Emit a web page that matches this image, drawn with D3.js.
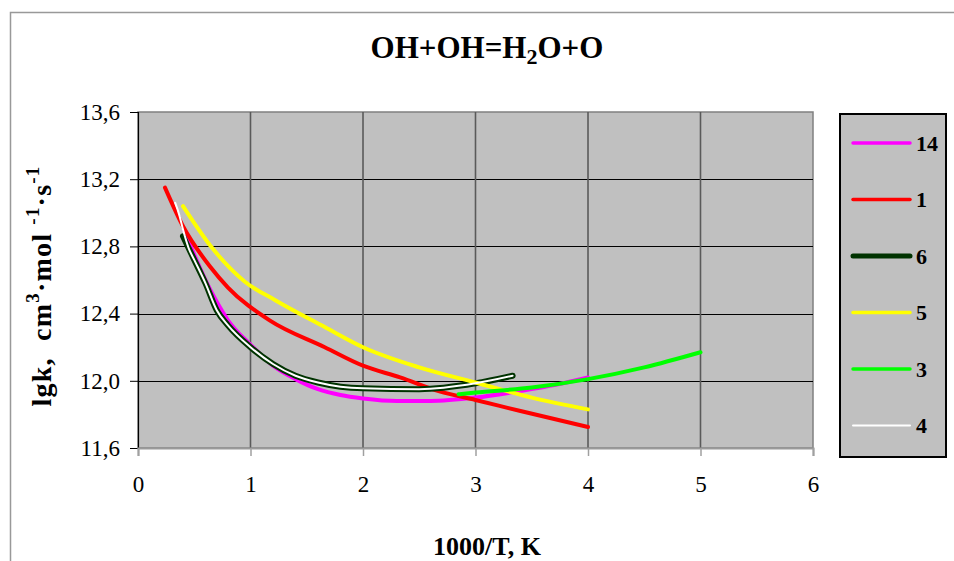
<!DOCTYPE html>
<html><head><meta charset="utf-8">
<script src="https://cdn.jsdelivr.net/npm/d3@7"></script>
<style>body{margin:0;background:#fff}svg{display:block}text{font-family:"Liberation Serif","Times New Roman",serif;fill:#000}</style>
</head><body>
<svg id="c" width="954" height="561"></svg>
<script>
// ---- data ----
const xTicks = [0, 1, 2, 3, 4, 5, 6];
const yTicks = [11.6, 12.0, 12.4, 12.8, 13.2, 13.6];
const legendNames = ["14", "1", "6", "5", "3", "4"];
const colors = ["#ff00ff", "#ff0000", "#003300", "#ffff00", "#00ff00", "#ffffff"];

const s14 = [[0.41,12.90],[0.5,12.75],[0.6,12.60],[0.7,12.47],[0.8,12.36],[1.0,12.215],[1.2,12.09],[1.4,12.01],[1.6,11.95],[1.8,11.915],[2.0,11.895],[2.3,11.88],[2.6,11.88],[3.0,11.90],[3.4,11.94],[3.7,11.975],[4.0,12.02]];
const s1 = [[0.24,13.15],[0.40,12.92],[0.64,12.68],[0.80,12.555],[1.17,12.36],[1.66,12.20],[2.0,12.09],[2.33,12.02],[2.68,11.937],[3.0,11.886],[3.4,11.82],[4.0,11.725]];
const s6 = [[0.40,12.86],[0.5,12.72],[0.6,12.58],[0.7,12.42],[0.8,12.33],[1.0,12.20],[1.2,12.10],[1.4,12.03],[1.6,11.99],[1.8,11.965],[2.0,11.955],[2.5,11.95],[3.0,11.985],[3.33,12.03]];
const s5 = [[0.40,13.04],[0.66,12.79],[0.95,12.59],[1.22,12.48],[1.66,12.32],[2.0,12.20],[2.5,12.08],[3.0,11.99],[3.5,11.90],[4.0,11.83]];
const s3 = [[2.85,11.92],[3.0,11.93],[3.5,11.96],[4.0,12.01],[4.5,12.08],[5.0,12.17]];
const s4 = [[0.33,13.06],[0.37,12.98],[0.40,12.90],[0.45,12.79],[0.5,12.72],[0.6,12.58],[0.7,12.42],[0.8,12.33],[1.0,12.20],[1.2,12.10],[1.4,12.03],[1.6,11.99],[1.8,11.965],[2.0,11.955],[2.5,11.95],[3.0,11.985],[3.33,12.03]];
const seriesData = [s14, s1, s6, s5, s3, s4];

// ---- drawing ----
const svg = d3.select("#c");
const x = d3.scaleLinear().domain([0, 6]).range([138, 813]);
const y = d3.scaleLinear().domain([11.6, 13.6]).range([448, 112]);

svg.append("rect").attr("x",10.5).attr("y",12.5).attr("width",1000).attr("height",600)
  .attr("fill","#fff").attr("stroke","#999").attr("stroke-width",1.5);

svg.append("rect").attr("x",x(0)).attr("y",y(13.6)).attr("width",x(6)-x(0)).attr("height",y(11.6)-y(13.6))
  .attr("fill","#c0c0c0").attr("stroke","#808080").attr("stroke-width",1.5);

// grid
svg.append("g").selectAll("line").data(yTicks.filter(d=>d>11.6 && d<13.6)).join("line")
  .attr("x1",x(0)).attr("x2",x(6)).attr("y1",d=>Math.round(y(d))+0.5).attr("y2",d=>Math.round(y(d))+0.5)
  .attr("stroke","#000").attr("stroke-width",1);
svg.append("g").selectAll("line").data(xTicks.filter(d=>d>0 && d<6)).join("line")
  .attr("y1",y(13.6)).attr("y2",y(11.6)).attr("x1",d=>x(d)).attr("x2",d=>x(d))
  .attr("stroke","#5a5a5a").attr("stroke-width",1.6);

// axes
const yAxis = d3.axisLeft(y).tickValues(yTicks).tickSize(8).tickPadding(10)
  .tickFormat(d=>d3.format(".1f")(d).replace(".",","));
const gy = svg.append("g").attr("transform",`translate(${x(0)},0)`).call(yAxis);
gy.select(".domain").attr("stroke","#000").attr("stroke-width",1.2);
gy.selectAll(".tick line").attr("stroke","#000");
gy.selectAll(".tick text").attr("font-size",23).attr("font-family","Liberation Serif").attr("fill","#000");

const xAxis = d3.axisBottom(x).tickValues(xTicks).tickSize(8).tickPadding(20).tickFormat(d3.format("d"));
const gx = svg.append("g").attr("transform",`translate(0,${y(11.6)})`).call(xAxis);
gx.select(".domain").attr("stroke","#9a9a9a").attr("stroke-width",2);
gx.selectAll(".tick line").attr("stroke","#a0a0a0").attr("stroke-width",1.5);
gx.selectAll(".tick text").attr("font-size",23).attr("font-family","Liberation Serif").attr("fill","#000");

// lines
const line = d3.line().x(d=>x(d[0])).y(d=>y(d[1])).curve(d3.curveMonotoneX);
const widths = [4, 4, 6, 4, 4, 2];
seriesData.forEach((s,i)=>{
  svg.append("path").datum(s).attr("d",line).attr("fill","none")
    .attr("stroke",colors[i]).attr("stroke-width",widths[i]).attr("stroke-linecap","round").attr("stroke-linejoin","round");
});

// legend
const lg = svg.append("g");
lg.append("rect").attr("x",840).attr("y",114).attr("width",106).attr("height",343)
  .attr("fill","#c0c0c0").attr("stroke","#000").attr("stroke-width",2);
legendNames.forEach((n,i)=>{
  const yy = 143 + i*56.5;
  lg.append("line").attr("x1",853).attr("x2",910).attr("y1",yy).attr("y2",yy)
    .attr("stroke",colors[i]).attr("stroke-width",i===2?5:(i===5?2:3.5)).attr("stroke-linecap","round");
  lg.append("text").attr("x",916).attr("y",yy).attr("dy","0.35em").attr("font-size",22)
    .attr("font-weight","bold").text(n);
});

// title
const t = svg.append("text").attr("x",487).attr("y",58).attr("text-anchor","middle")
  .attr("font-size",31).attr("font-weight","bold");
t.append("tspan").text("OH+OH=H");
t.append("tspan").attr("dy",6).attr("font-size",22).text("2");
t.append("tspan").attr("dy",-6).text("O+O");

// x title
svg.append("text").attr("x",487).attr("y",555).attr("text-anchor","middle")
  .attr("font-size",26).attr("font-weight","bold").text("1000/T, K");

// y title
const yt = svg.append("text").attr("transform","translate(51,286) rotate(-90)").attr("text-anchor","middle")
  .attr("font-size",28).attr("font-weight","bold").attr("letter-spacing",1.2).style("white-space","pre");
yt.append("tspan").text("lgk,  cm");
yt.append("tspan").attr("dy",-12).attr("font-size",19).text("3");
yt.append("tspan").attr("dy",12).text("·mol ");
yt.append("tspan").attr("dy",-12).attr("font-size",19).text("-1");
yt.append("tspan").attr("dy",12).text("·s");
yt.append("tspan").attr("dy",-12).attr("font-size",19).text("-1");
</script>
</body></html>
